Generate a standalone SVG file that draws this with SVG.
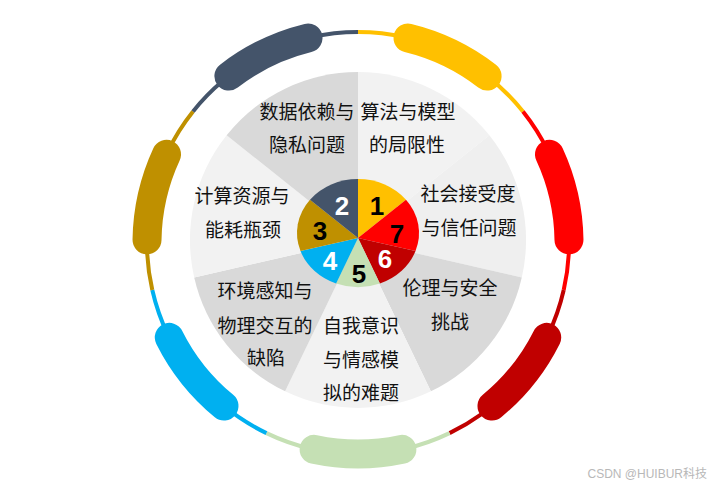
<svg xmlns="http://www.w3.org/2000/svg" width="721" height="486" viewBox="0 0 721 486">
<style>
.ring{fill:none;stroke-width:4}
.cap{fill:none;stroke-width:29;stroke-linecap:round}
.lbl{font-family:"Noto Sans CJK SC","Microsoft YaHei",sans-serif;font-size:19px;fill:#111;text-anchor:middle}
.num{font-family:"Liberation Sans",Arial,sans-serif;font-weight:bold;font-size:26px;text-anchor:middle}
.dk{fill:#d9d9d9}.lt{fill:#f2f2f2}
</style>
<rect width="721" height="486" fill="#ffffff"/>
<g id="connectors">
<path class="ring" stroke="#ffc000" d="M358,32 A211,211 0 0 1 522.97,111.44"/>
<path class="ring" stroke="#ff0000" d="M522.97,111.44 A211,211 0 0 1 563.71,289.95"/>
<path class="ring" stroke="#c00000" d="M563.71,289.95 A211,211 0 0 1 449.55,433.10"/>
<path class="ring" stroke="#c5e0b4" d="M449.55,433.10 A211,211 0 0 1 266.45,433.10"/>
<path class="ring" stroke="#00b0f0" d="M266.45,433.10 A211,211 0 0 1 152.29,289.95"/>
<path class="ring" stroke="#bf9000" d="M152.29,289.95 A211,211 0 0 1 193.03,111.44"/>
<path class="ring" stroke="#44546a" d="M193.03,111.44 A211,211 0 0 1 358,32"/>
<path class="cap" stroke="#ffc000" d="M408.0,38.0 A211,211 0 0 1 487.1,76.1"/>
<path class="cap" stroke="#ff0000" d="M549.5,154.3 A211,211 0 0 1 568.98,239.83"/>
<path class="cap" stroke="#c00000" d="M546.7,337.4 A211,211 0 0 1 492.0,406.0"/>
<path class="cap" stroke="#c5e0b4" d="M401.9,449.4 A211,211 0 0 1 314.1,449.4"/>
<path class="cap" stroke="#00b0f0" d="M224.0,406.0 A211,211 0 0 1 169.3,337.4"/>
<path class="cap" stroke="#bf9000" d="M147.02,239.83 A211,211 0 0 1 166.5,154.3"/>
<path class="cap" stroke="#44546a" d="M228.9,76.1 A211,211 0 0 1 308.0,38.0"/>
</g>
<g id="topic-1">
<path class="lt" d="M358,240 L358,72 A168,168 0 0 1 489.35,135.25 Z"/>
<text class="lbl" x="408" y="119">算法与模型</text>
<text class="lbl" x="407" y="152">的局限性</text>
</g>
<g id="topic-7">
<path fill="#efefef" d="M358,240 L489.35,135.25 A168,168 0 0 1 521.79,277.38 Z"/>
<text class="lbl" x="468" y="201">社会接受度</text>
<text class="lbl" x="469" y="235">与信任问题</text>
</g>
<g id="topic-6">
<path class="dk" d="M358,240 L521.79,277.38 A168,168 0 0 1 430.89,391.36 Z"/>
<text class="lbl" x="450" y="295">伦理与安全</text>
<text class="lbl" x="450" y="329">挑战</text>
</g>
<g id="topic-5">
<path class="lt" d="M358,240 L430.89,391.36 A168,168 0 0 1 285.11,391.36 Z"/>
<text class="lbl" x="361" y="333">自我意识</text>
<text class="lbl" x="361" y="367">与情感模</text>
<text class="lbl" x="361" y="400">拟的难题</text>
</g>
<g id="topic-4">
<path class="dk" d="M358,240 L285.11,391.36 A168,168 0 0 1 194.21,277.38 Z"/>
<text class="lbl" x="265" y="298">环境感知与</text>
<text class="lbl" x="265" y="333">物理交互的</text>
<text class="lbl" x="266" y="365">缺陷</text>
</g>
<g id="topic-3">
<path class="lt" d="M358,240 L194.21,277.38 A168,168 0 0 1 226.65,135.25 Z"/>
<text class="lbl" x="242" y="203">计算资源与</text>
<text class="lbl" x="243" y="237">能耗瓶颈</text>
</g>
<g id="topic-2">
<path class="dk" d="M358,240 L226.65,135.25 A168,168 0 0 1 358,72 Z"/>
<text class="lbl" x="307" y="119">数据依赖与</text>
<text class="lbl" x="307" y="152">隐私问题</text>
</g>
<g id="pie">
<g id="wedge-1"><path fill="#ffc000" d="M358,238 L358,179 A61,54 0 0 1 406.0,199.7 Z"/><text class="num" fill="#000" x="377" y="215">1</text></g>
<g id="wedge-7"><path fill="#ff0000" d="M358,238 L406.0,199.7 A61,54 0 0 1 415.5,251.1 Z"/><text class="num" fill="#000" x="397" y="243">7</text></g>
<g id="wedge-6"><path fill="#c00000" d="M358,238 L415.5,251.1 A61,54 0 0 1 379.9,283.4 Z"/><text class="num" fill="#fff" x="385" y="268">6</text></g>
<g id="wedge-5"><path fill="#c5e0b4" d="M358,238 L379.9,283.4 A61,54 0 0 1 336.1,283.4 Z"/><text class="num" fill="#000" x="359" y="283">5</text></g>
<g id="wedge-4"><path fill="#00b0f0" d="M358,238 L336.1,283.4 A61,54 0 0 1 300.5,251.1 Z"/><text class="num" fill="#fff" x="330" y="270">4</text></g>
<g id="wedge-3"><path fill="#bf9000" d="M358,238 L300.5,251.1 A61,54 0 0 1 310.0,199.7 Z"/><text class="num" fill="#000" x="320" y="240">3</text></g>
<g id="wedge-2"><path fill="#44546a" d="M358,238 L310.0,199.7 A61,54 0 0 1 358,179 Z"/><text class="num" fill="#fff" x="342" y="215">2</text></g>
</g>
<text x="707" y="478" font-family="'Liberation Sans','Noto Sans CJK SC',sans-serif" font-size="12" fill="#b8b8b8" text-anchor="end">CSDN @HUIBUR科技</text>
</svg>
